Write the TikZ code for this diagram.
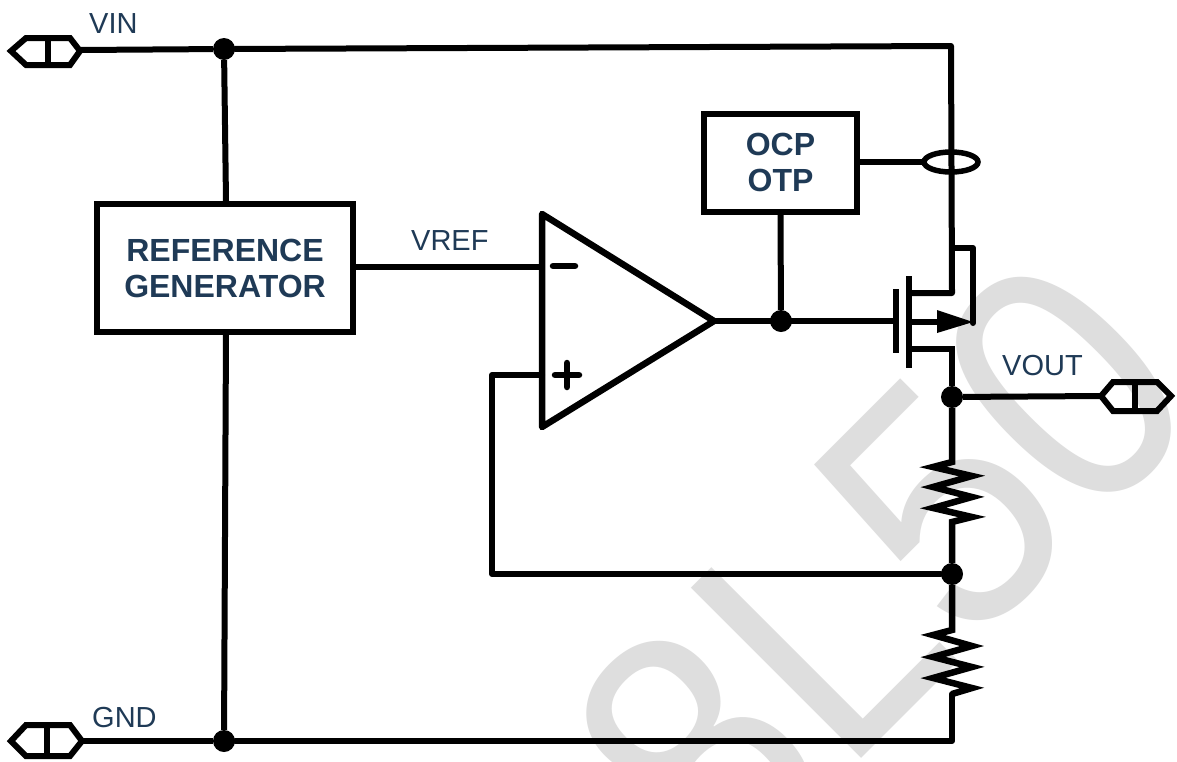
\documentclass[tikz,border=0pt]{standalone}
\usepackage{fontspec}
\setmainfont{Liberation Sans}
\definecolor{labelblue}{HTML}{1F3A56}
\definecolor{wmgrey}{HTML}{DEDEDE}
\tikzset{
  wire/.style={line width=6pt,line cap=butt,line join=miter},
  cornerwire/.style={line width=6pt,line cap=round,line join=round},
  zigzag/.style={line width=6.5pt,line cap=butt,line join=miter},
  dotnode/.style={circle,fill=black,inner sep=0pt,minimum size=22pt},
  blockbox/.style={draw=black,line width=6pt,fill=white,align=center,inner sep=0pt,text=labelblue,font=\fontsize{32}{37}\selectfont\bfseries},
  pinlabel/.style={text=labelblue,inner sep=0pt,font=\fontsize{29}{32}\selectfont},
  terminal/.style={line width=6pt,line join=miter},
  plate/.style={line width=6.5pt},
  signmark/.style={line width=6.5pt,line cap=round},
  wmtext/.style={text=wmgrey,inner sep=0pt,anchor=base west,rotate=45,xscale=.89,transform shape,font=\fontsize{350}{350}\selectfont}
}
\begin{document}
\begin{tikzpicture}[x=1pt,y=-1pt]
\useasboundingbox (0,0) rectangle (1177,761);
\clip (0,0) rectangle (1177,761);
\fill[white] (0,0) rectangle (1177,761);
\node[wmtext] (wm) at (721,899) {8L50};

% junctions and corners
\coordinate (vinT) at (80,50);
\coordinate (gndT) at (82,741);
\coordinate (voutT) at (1101,396);
\coordinate (topR) at (951,46);
\coordinate (botR) at (952,741);
\coordinate (drainTop) at (952,293);
\coordinate (srcBot) at (952,349);
\coordinate (fbTurn1) at (492,375);
\coordinate (fbTurn2) at (492,574);
\coordinate (opA) at (542,214);
\coordinate (opB) at (714,321);
\coordinate (opC) at (542,427);
\coordinate (opMinus) at (542,267);
\coordinate (opPlus) at (542,375);
\coordinate (gateP) at (896,321);

\node[dotnode] (dVin) at (224,49) {};
\node[dotnode] (dGnd) at (224,741) {};
\node[dotnode] (dGate) at (781,321) {};
\node[dotnode] (dOut) at (952,397) {};
\node[dotnode] (dFb) at (952,574) {};

\node[blockbox,minimum width=256pt,minimum height=128pt] (ref) at (225,268) {REFERENCE\\[-1pt]GENERATOR};
\node[blockbox,minimum width=153pt,minimum height=98pt] (ocp) at (780.5,162.5) {OCP\\[-1pt]OTP};

% wires
\draw[wire] (vinT) -- (dVin);
\draw[cornerwire] (dVin) -- (topR) -- (drainTop) -- (912,293);
\draw[wire] (gndT) -- (dGnd);
\draw[cornerwire] (dGnd) -- (botR) -- (952,694);
\draw[wire] (dVin) -- (ref.north -| 226,0);
\draw[wire] (226,332) -- (dGnd);
\draw[wire] (ref.east |- opMinus) -- (opMinus);
\draw[wire] (opB) -- (gateP);
\draw[wire] (ocp.south) -- (dGate);
\draw[wire] (dOut) -- (voutT);
\draw[cornerwire] (opPlus) -- (fbTurn1) -- (fbTurn2) -- (dFb);

% current sense loop
\draw[wire] (ocp.east |- 0,162) -- (924,162);
\draw[line width=5.5pt] (951,162) ellipse (27pt and 10pt);

% op amp
\draw[line width=6.5pt,line join=round] (opA) -- (opB) -- (opC) -- cycle;
\draw[signmark] (553,266) -- (575,266);
\draw[signmark] (555,375) -- (579,375);
\draw[signmark] (567,363) -- (567,387);

% MOSFET
\draw[plate] (896,289) -- (896,353);
\draw[plate] (909,276) -- (909,368);
\draw[wire] (912,349) -- (srcBot) -- (dOut);
\draw[cornerwire] (952,248) -- (973,248) -- (973,323);
\draw[wire] (912,322) -- (940,322);
\fill (937,310) -- (973,322) -- (937,333) -- cycle;

% resistors
\draw[zigzag] (dOut) -- (952,462) -- (933,467) -- (972,476) -- (933,487) -- (972,497) -- (933,508) -- (972,517) -- (952,522) -- (dFb);
\draw[zigzag] (dFb) -- (952,630) -- (933,635) -- (972,646) -- (933,657) -- (972,667) -- (933,678) -- (972,688) -- (952,694);

% terminals
\draw[terminal] (11,51) -- (26,38) -- (70,38) -- (80,51) -- (70,65) -- (26,65) -- cycle;
\draw[terminal] (48,36) -- (48,67);
\draw[terminal] (11,741) -- (26,725) -- (70,725) -- (82,741) -- (70,756) -- (26,756) -- cycle;
\draw[terminal] (47,723) -- (47,758);
\draw[terminal] (1101,396) -- (1113,382) -- (1157,382) -- (1171,396) -- (1157,411) -- (1113,411) -- cycle;
\draw[terminal] (1135,380) -- (1135,413);

% labels
\node[pinlabel,anchor=base west] (lVin) at (89,33) {VIN};
\node[pinlabel,anchor=base west] (lGnd) at (92,727) {GND};
\node[pinlabel,anchor=base west] (lVref) at (411,250) {VREF};
\node[pinlabel,anchor=base west] (lVout) at (1002,375) {VOUT};
\end{tikzpicture}
\end{document}
